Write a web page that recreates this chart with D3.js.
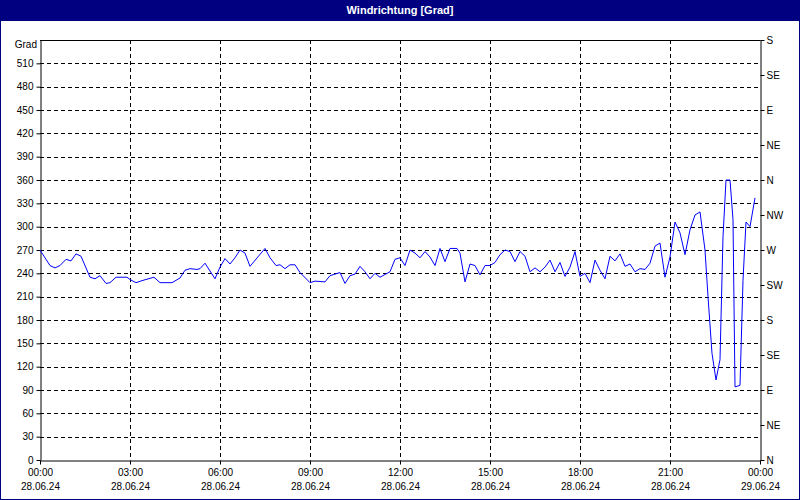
<!DOCTYPE html>
<html><head><meta charset="utf-8">
<script src="https://cdn.jsdelivr.net/npm/d3@7"></script>
<style>body{margin:0;background:#fff}svg{display:block;font-family:"Liberation Sans",Arial,sans-serif}</style>
</head><body><svg id="c" width="800" height="500"></svg>
<script>
const title = "Windrichtung [Grad]";
const yTicks = [0,30,60,90,120,150,180,210,240,270,300,330,360,390,420,450,480,510];
const dirTicks = [0,45,90,135,180,225,270,315,360,405,450,495,540];
const dirLabels = ["N","NE","E","SE","S","SW","W","NW","N","NE","E","SE","S"];
const xTickHours = [0,3,6,9,12,15,18,21,24];
const xTickTimes = ["00:00","03:00","06:00","09:00","12:00","15:00","18:00","21:00","00:00"];
const xTickDates = ["28.06.24","28.06.24","28.06.24","28.06.24","28.06.24","28.06.24","28.06.24","28.06.24","29.06.24"];
// minutes since 00:00 and wind direction in degrees
const minutes = [0,20,30,40,52,62,72,82,100,110,120,132,140,152,174,180,192,206,228,240,264,280,290,300,314,320,330,350,360,370,380,390,400,410,420,450,460,472,480,490,500,510,520,540,550,570,580,600,610,620,630,640,650,660,670,680,700,
 710,720,730,740,750,760,770,780,790,800,810,820,834,840,
 850,860,870,880,890,900,910,920,930,940,950,960,970,980,990,1000,1010,1020,1030,1040,1050,1060,1070,1080,1090,1100,1110,1120,1130,1140,1150,1160,1170,1180,1190,1200,
 1210,1220,1230,1240,1250,1260,1270,1280,1290,1300,1310,1320,1330,
 1336,1344,1352,1360,1366,1372,1380,1386,1390,1400,1406,1412,1420,1430];
const values = [270,250,247,250,258,256,265,262,235,233,237,227,228,235,235,232,228,231,235,228,228,234,244,246,245,246,253,233,248,259,252,260,270,266,249,272,260,250,251,246,251,251,241,228,230,229,237,241,227,237,239,249,242,233,240,235,242,
 258,260,250,270,266,260,268,261,250,272,255,272,272,266,
 229,252,250,238,250,250,254,264,270,268,255,268,262,242,247,242,248,257,242,254,236,248,268,236,240,228,257,244,233,262,256,265,249,252,242,246,
 245,253,275,279,235,261,306,292,264,296,315,319,270,
 210,137,103,129,287,360,360,309,94,96,231,306,300,337];

const svg = d3.select("#c");
const W=800,H=500, m={l:40,r:760,t:40,b:460};
svg.append("rect").attr("x",0).attr("y",0).attr("width",W).attr("height",20).attr("fill","#000080");
svg.append("text").attr("x",W/2).attr("y",14).attr("text-anchor","middle").attr("fill","#fff")
  .attr("font-size",11).attr("font-weight","bold").text(title);
svg.append("rect").attr("x",0.5).attr("y",20.5).attr("width",W-1).attr("height",H-21).attr("fill","none").attr("stroke","#000080");

const x = d3.scaleLinear().domain([0,24]).range([m.l,m.r]);
const y = d3.scaleLinear().domain([0,540]).range([m.b,m.t]);

const g = svg.append("g");
g.selectAll(".hg").data(yTicks.filter(d=>d>0)).join("line")
  .attr("x1",m.l).attr("x2",m.r).attr("y1",d=>Math.round(y(d))+0.5).attr("y2",d=>Math.round(y(d))+0.5)
  .attr("stroke","#000").attr("stroke-dasharray","4,3").attr("stroke-width",1);
g.selectAll(".vg").data(xTickHours.slice(1,-1)).join("line")
  .attr("x1",d=>Math.round(x(d))+0.5).attr("x2",d=>Math.round(x(d))+0.5).attr("y1",m.t).attr("y2",m.b)
  .attr("stroke","#000").attr("stroke-dasharray","4,3");

const la = svg.append("g").attr("transform",`translate(${m.l+0.5},0)`)
  .call(d3.axisLeft(y).tickValues(yTicks).tickSize(4).tickSizeOuter(0).tickPadding(3));
la.selectAll("text").attr("font-size",10).attr("font-family","Liberation Sans, Arial");
svg.append("text").attr("x",37).attr("y",48).attr("text-anchor","end").attr("font-size",10).text("Grad");
const ra = svg.append("g").attr("transform",`translate(${m.r+0.5},0)`)
  .call(d3.axisRight(y).tickValues(dirTicks).tickFormat((d,i)=>dirLabels[i]).tickSize(4).tickSizeOuter(0).tickPadding(2));
ra.selectAll("text").attr("font-size",10).attr("font-family","Liberation Sans, Arial");
const ba = svg.append("g").attr("transform",`translate(0,${m.b+0.5})`)
  .call(d3.axisBottom(x).tickValues(xTickHours).tickFormat((d,i)=>xTickTimes[i]).tickSize(4).tickSizeOuter(0).tickPadding(4));
ba.selectAll("text").attr("font-size",10).attr("font-family","Liberation Sans, Arial");
ba.selectAll(".tick").append("text").attr("y",29).attr("fill","#000").attr("font-size",10)
  .attr("font-family","Liberation Sans, Arial").text((d,i)=>xTickDates[i]);
svg.append("line").attr("x1",m.l).attr("x2",m.r+0.5).attr("y1",m.t+0.5).attr("y2",m.t+0.5).attr("stroke","#000");

const line = d3.line().x((d,i)=>x(minutes[i]/60)).y(d=>y(d));
svg.append("path").datum(values).attr("d",line).attr("fill","none").attr("stroke","#0000ff").attr("stroke-width",1);
</script></body></html>
